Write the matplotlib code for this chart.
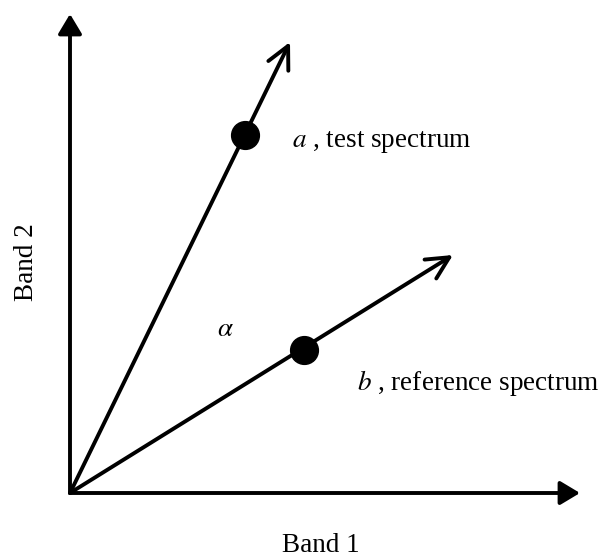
import numpy as np
import matplotlib.pyplot as plt

plt.rcParams['font.family'] = ['Liberation Serif', 'DejaVu Serif']
plt.rcParams['mathtext.fontset'] = 'stix'

# vector data (band 1, band 2), origin at 0,0
origin = (0.0, 0.0)
axis_x_tip = (5.10, 0.0)
axis_y_tip = (0.0, 4.79)
vec_a_tip = (2.20, 4.51)
vec_b_tip = (3.83, 2.38)
dot_a = (1.75, 3.58)
dot_b = (2.34, 1.43)

fig = plt.figure(figsize=(6.04, 5.57), dpi=100)
ax = fig.add_axes([0, 0, 1, 1])
ax.set_xlim(-0.70, 5.34)
ax.set_ylim(-0.64, 4.93)
ax.axis('off')

# axes with filled heads
for tip in (axis_x_tip, axis_y_tip):
    ax.annotate("", xy=tip, xytext=origin,
                arrowprops=dict(arrowstyle="-|>,head_length=0.6,head_width=0.36",
                                lw=2.8, color="black", mutation_scale=20,
                                shrinkA=0, shrinkB=0))

# spectrum vectors with open heads
for tip in (vec_a_tip, vec_b_tip):
    ax.annotate("", xy=tip, xytext=origin,
                arrowprops=dict(arrowstyle="->,head_length=0.8,head_width=0.4",
                                lw=2.8, color="black", mutation_scale=20,
                                shrinkA=0, shrinkB=0))

ax.plot([dot_a[0], dot_b[0]], [dot_a[1], dot_b[1]], 'o', color='black',
        markersize=20, linestyle='none')

fs = 19.5
ax.text(2.22, 3.51, r"$a$ , test spectrum", fontsize=fs, ha='left', va='center')
ax.text(2.87, 1.10, r"$b$ , reference spectrum", fontsize=fs, ha='left', va='center')
ax.text(1.55, 1.63, r"$\alpha$", fontsize=fs, ha='center', va='center')
ax.text(2.51, -0.52, "Band 1", fontsize=fs, ha='center', va='center')
ax.text(-0.43, 2.31, "Band 2", fontsize=fs, ha='center', va='center', rotation=90)

fig.savefig("out.png", dpi=100)
